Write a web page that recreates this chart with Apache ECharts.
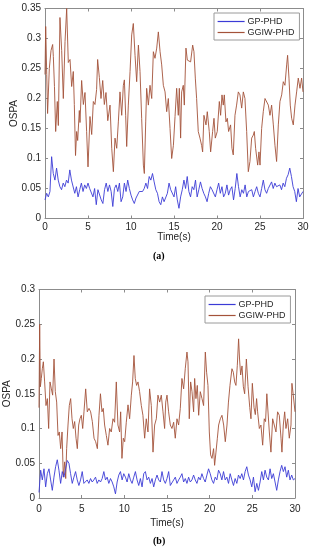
<!DOCTYPE html>
<html>
<head>
<meta charset="utf-8">
<script src="https://cdn.jsdelivr.net/npm/echarts@6/dist/echarts.min.js"></script>
<style>
html,body{margin:0;padding:0;background:#fff;}
#chart{width:312px;height:550px;}
</style>
</head>
<body>
<div id="chart"></div>
<script>
// ---------- data ----------
const xTicks = [0, 5, 10, 15, 20, 25, 30];
const seriesNames = ['GP-PHD', 'GGIW-PHD'];
const panelLabels = ['(a)', '(b)'];

// panel (a): GP-PHD, uniformly sampled over 0..30 s
const gpA = [0.031,0.042,0.036,0.045,0.103,0.075,0.064,0.084,0.064,0.053,0.048,0.059,0.053,0.064,0.059,0.081,0.064,0.061,0.042,0.053,
0.036,0.048,0.059,0.045,0.056,0.050,0.059,0.050,0.048,0.036,0.050,0.023,0.048,0.045,0.031,0.025,0.048,0.059,0.045,0.056,
0.045,0.020,0.050,0.056,0.045,0.059,0.028,0.036,0.059,0.045,0.064,0.050,0.039,0.031,0.025,0.034,0.036,0.045,0.048,0.045,
0.050,0.059,0.050,0.070,0.064,0.075,0.061,0.048,0.042,0.028,0.023,0.036,0.028,0.028,0.042,0.059,0.048,0.050,0.036,0.053,
0.031,0.017,0.036,0.048,0.064,0.050,0.070,0.045,0.036,0.053,0.048,0.064,0.036,0.048,0.061,0.050,0.042,0.036,0.028,0.042,
0.053,0.048,0.050,0.036,0.048,0.059,0.042,0.053,0.036,0.042,0.056,0.039,0.048,0.053,0.031,0.050,0.075,0.053,0.036,0.048,
0.042,0.056,0.036,0.045,0.042,0.048,0.036,0.045,0.053,0.042,0.036,0.050,0.064,0.048,0.042,0.050,0.048,0.061,0.050,0.059,
0.053,0.050,0.056,0.048,0.059,0.053,0.067,0.073,0.084,0.070,0.053,0.045,0.028,0.050,0.036,0.034,0.045];

// panel (a): GGIW-PHD
const ggiwTimeA = [0,0.08,0.2,0.3,0.5,0.7,0.89,0.97,1.1,1.24,1.43,1.55,1.74,1.94,2.02,2.13,2.33,2.52,2.71,2.91,
3.1,3.29,3.41,3.55,3.68,3.8,3.99,4.07,4.26,4.46,4.65,4.84,5.0,5.23,5.43,5.62,5.81,6.0,6.12,6.32,
6.51,6.71,6.9,7.09,7.3,7.56,7.76,7.95,8.14,8.34,8.53,8.72,8.92,9.11,9.23,9.38,9.5,9.69,9.89,10.08,
10.27,10.47,10.66,10.86,11.05,11.24,11.44,11.55,11.71,11.82,12.02,12.21,12.41,12.6,12.79,12.99,13.18,13.38,13.57,13.76,
13.96,14.15,14.34,14.54,14.73,14.93,15.12,15.31,15.5,15.62,15.77,15.89,16.08,16.2,16.39,16.55,16.78,16.93,17.17,17.32,
17.48,17.63,17.82,18.02,18.21,18.33,18.48,18.72,18.87,19.1,19.26,19.49,19.65,19.8,20.03,20.27,20.42,20.58,20.73,20.85,
21.04,21.2,21.35,21.58,21.74,21.89,22.09,22.28,22.48,22.67,22.87,23.06,23.25,23.45,23.64,23.83,24.03,24.22,24.34,24.49,
24.73,24.88,25.0,25.19,25.38,25.58,25.77,25.97,26.16,26.35,26.55,26.74,26.93,27.13,27.32,27.52,27.71,27.9,28.1,28.21,
28.37,28.52,28.68,28.87,29.07,29.26,29.45,29.65,29.84,30.0];
const ggiwA = [0.24,0.32,0.24,0.175,0.25,0.28,0.29,0.27,0.22,0.145,0.195,0.155,0.335,0.28,0.28,0.2,0.295,0.35,0.26,0.265,
0.22,0.245,0.19,0.105,0.145,0.13,0.18,0.16,0.23,0.19,0.21,0.145,0.086,0.17,0.14,0.195,0.19,0.215,0.265,0.235,
0.2,0.23,0.19,0.21,0.163,0.189,0.117,0.078,0.134,0.117,0.161,0.211,0.172,0.222,0.231,0.172,0.12,0.189,0.245,0.306,
0.325,0.272,0.228,0.289,0.245,0.167,0.089,0.075,0.161,0.217,0.189,0.222,0.2,0.278,0.267,0.284,0.311,0.278,0.256,0.222,
0.211,0.178,0.2,0.15,0.1,0.122,0.17,0.217,0.172,0.217,0.134,0.211,0.222,0.189,0.284,0.264,0.264,0.261,0.289,0.278,
0.234,0.2,0.145,0.134,0.122,0.111,0.172,0.156,0.178,0.145,0.111,0.145,0.167,0.134,0.145,0.195,0.172,0.206,0.189,0.206,
0.161,0.167,0.145,0.156,0.117,0.106,0.172,0.189,0.211,0.206,0.184,0.211,0.2,0.145,0.078,0.095,0.134,0.139,0.145,0.117,
0.089,0.111,0.089,0.15,0.178,0.2,0.2,0.189,0.172,0.189,0.156,0.122,0.095,0.156,0.195,0.206,0.228,0.222,0.256,0.272,
0.234,0.189,0.167,0.156,0.189,0.211,0.234,0.217,0.234,0.211];

// panel (b): GP-PHD, uniformly sampled over 0..30 s
const gpB = [0.008,0.040,0.026,0.042,0.016,0.035,0.042,0.026,0.011,0.030,0.045,0.055,0.040,0.021,0.038,0.030,0.042,0.054,0.050,0.035,
0.021,0.030,0.038,0.026,0.018,0.026,0.038,0.021,0.023,0.026,0.021,0.028,0.023,0.026,0.030,0.021,0.026,0.023,0.028,0.038,
0.026,0.030,0.021,0.028,0.023,0.016,0.006,0.023,0.033,0.038,0.026,0.035,0.030,0.023,0.035,0.026,0.021,0.030,0.038,0.026,
0.018,0.028,0.016,0.035,0.038,0.026,0.030,0.021,0.028,0.016,0.026,0.033,0.026,0.023,0.038,0.026,0.021,0.028,0.038,0.018,
0.016,0.026,0.030,0.021,0.026,0.030,0.035,0.023,0.028,0.021,0.030,0.023,0.026,0.033,0.026,0.021,0.030,0.026,0.035,0.028,
0.023,0.033,0.042,0.035,0.026,0.021,0.030,0.026,0.040,0.035,0.026,0.038,0.026,0.030,0.021,0.035,0.026,0.018,0.028,0.021,
0.033,0.028,0.035,0.026,0.038,0.045,0.033,0.026,0.016,0.030,0.009,0.021,0.011,0.023,0.038,0.026,0.040,0.030,0.026,0.042,
0.028,0.035,0.023,0.011,0.026,0.038,0.047,0.038,0.045,0.030,0.040,0.026,0.033,0.026,0.028];

// panel (b): GGIW-PHD
const ggiwTimeB = [0,0.08,0.16,0.27,0.39,0.51,0.66,0.82,0.98,1.13,1.29,1.45,1.6,1.76,1.91,2.07,2.23,2.38,2.54,2.7,
2.85,3.01,3.13,3.24,3.4,3.55,3.71,3.87,4.02,4.18,4.34,4.49,4.65,4.8,4.96,5.12,5.27,5.47,5.66,5.86,
6.05,6.25,6.45,6.64,6.84,7.03,7.2,7.38,7.53,7.69,7.89,8.08,8.28,8.47,8.67,8.86,9.06,9.25,9.45,9.57,
9.72,9.88,10.04,10.23,10.43,10.62,10.82,10.97,11.13,11.28,11.44,11.6,11.79,11.99,12.18,12.38,12.57,12.77,12.96,13.16,
13.36,13.55,13.75,13.94,14.14,14.33,14.53,14.72,14.85,15.0,15.19,15.39,15.58,15.78,15.97,16.17,16.36,16.56,16.75,16.95,
17.14,17.34,17.46,17.61,17.77,17.93,18.12,18.24,18.39,18.55,18.71,18.9,19.1,19.29,19.49,19.64,19.8,19.96,20.11,20.27,
20.46,20.58,20.74,20.9,21.05,21.25,21.44,21.64,21.83,22.03,22.2,22.38,22.61,22.77,22.93,23.08,23.24,23.39,23.5,23.63,
23.79,23.95,24.1,24.3,24.5,24.7,24.84,25.0,25.2,25.35,25.5,25.62,25.82,26.01,26.21,26.4,26.55,26.7,26.99,27.18,
27.38,27.57,27.77,27.96,28.16,28.36,28.47,28.63,28.79,28.94,29.14,29.33,29.53,29.64,29.8,30.0];
const ggiwB = [0.13,0.25,0.16,0.172,0.186,0.196,0.167,0.133,0.143,0.1,0.167,0.157,0.148,0.2,0.153,0.138,0.09,0.095,0.071,0.095,
0.03,0.052,0.028,0.071,0.105,0.133,0.143,0.114,0.1,0.11,0.086,0.071,0.105,0.114,0.119,0.1,0.124,0.157,0.124,0.129,
0.124,0.11,0.086,0.081,0.071,0.119,0.15,0.124,0.129,0.105,0.09,0.076,0.1,0.095,0.114,0.109,0.167,0.105,0.095,0.124,
0.057,0.086,0.081,0.109,0.134,0.114,0.148,0.167,0.205,0.172,0.162,0.167,0.153,0.133,0.119,0.086,0.114,0.095,0.157,0.133,
0.066,0.105,0.114,0.148,0.138,0.148,0.124,0.1,0.138,0.148,0.124,0.105,0.1,0.109,0.086,0.114,0.105,0.129,0.172,0.157,
0.186,0.21,0.196,0.114,0.167,0.153,0.124,0.172,0.143,0.162,0.119,0.153,0.143,0.133,0.21,0.181,0.162,0.095,0.062,0.057,
0.071,0.047,0.066,0.086,0.105,0.114,0.119,0.105,0.081,0.105,0.138,0.162,0.186,0.181,0.167,0.162,0.191,0.229,0.2,0.177,
0.19,0.16,0.15,0.2,0.16,0.13,0.114,0.165,0.13,0.12,0.143,0.124,0.1,0.105,0.076,0.114,0.11,0.15,0.095,0.066,
0.114,0.105,0.095,0.124,0.119,0.086,0.066,0.105,0.124,0.1,0.114,0.086,0.105,0.165,0.148,0.124];

// ---------- build ----------
function uniformPairs(vals) {
  const n = vals.length;
  return vals.map((v, i) => [xTicks[0] + (xTicks[xTicks.length - 1] - xTicks[0]) * i / (n - 1), v]);
}
function zipPairs(ts, vs) { return ts.map((t, i) => [t, vs[i]]); }

const FONT = 'Liberation Sans, Arial, sans-serif';
const TXT = '#262626';
const AXC = '#8c8c8c';
const BLUE = '#3b3bd6';
const RED = '#a4523a';

function xAx(gi, pos, showLbl, margin, nameGap) {
  return {
    type: 'value', gridIndex: gi, position: pos, min: xTicks[0], max: xTicks[xTicks.length - 1], interval: xTicks[1] - xTicks[0],
    axisLine: { show: true, onZero: false, lineStyle: { color: AXC, width: 1 } },
    axisTick: { show: true, inside: true, length: 3, lineStyle: { color: AXC } },
    axisLabel: { show: showLbl, fontSize: 10, color: TXT, fontFamily: FONT, margin: margin },
    splitLine: { show: false },
    name: showLbl ? 'Time(s)' : '', nameLocation: 'middle', nameGap: nameGap, nameMoveOverlap: false,
    nameTextStyle: { fontSize: 10, color: TXT, fontFamily: FONT }
  };
}
function yAx(gi, pos, showLbl, max, nameGap) {
  return {
    type: 'value', gridIndex: gi, position: pos, min: 0, max: max, interval: 0.05,
    axisLine: { show: true, onZero: false, lineStyle: { color: AXC, width: 1 } },
    axisTick: { show: true, inside: true, length: 3, lineStyle: { color: AXC } },
    axisLabel: { show: showLbl, fontSize: 10, color: TXT, fontFamily: FONT, margin: 4 },
    splitLine: { show: false },
    name: showLbl ? 'OSPA' : '', nameLocation: 'middle', nameGap: nameGap, nameRotate: 90, nameMoveOverlap: false,
    nameTextStyle: { fontSize: 10, color: TXT, fontFamily: FONT }
  };
}
function lineSeries(name, xi, yi, data, color) {
  return {
    name: name, type: 'line', xAxisIndex: xi, yAxisIndex: yi, data: data,
    symbol: 'none', showSymbol: false, animation: false,
    lineStyle: { color: color, width: 0.9 }, itemStyle: { color: color }
  };
}
function legend(left, top) {
  return {
    data: seriesNames, orient: 'vertical', left: left, top: top,
    itemWidth: 27, itemHeight: 9, itemGap: 2,
    padding: [4, 5, 3, 3],
    borderColor: '#9a9a9a', borderWidth: 1, backgroundColor: '#fff',
    itemStyle: { opacity: 0 },
    lineStyle: { width: 1.2 },
    textStyle: { fontSize: 9, color: TXT, fontFamily: FONT, padding: [0, 0, 0, -2] },
    selectedMode: false
  };
}

const chart = echarts.init(document.getElementById('chart'), null, { renderer: 'canvas' });
chart.setOption({
  animation: false,
  backgroundColor: '#fff',
  grid: [
    { left: 45, top: 8.5, width: 258, height: 210, outerBoundsMode: 'none', containLabel: false },
    { left: 39, top: 289.5, width: 256, height: 208.5, outerBoundsMode: 'none', containLabel: false }
  ],
  xAxis: [
    xAx(0, 'bottom', true, 4, 14),
    xAx(0, 'top', false, 4, 0),
    xAx(1, 'bottom', true, 6, 20),
    xAx(1, 'top', false, 4, 0)
  ],
  yAxis: [
    yAx(0, 'left', true, 0.35, 26),
    yAx(0, 'right', false, 0.35, 0),
    yAx(1, 'left', true, 0.3, 27),
    yAx(1, 'right', false, 0.3, 0)
  ],
  legend: [legend(214, 13), legend(205, 296)],
  series: [
    lineSeries(seriesNames[1], 0, 0, zipPairs(ggiwTimeA, ggiwA), RED),
    lineSeries(seriesNames[0], 0, 0, uniformPairs(gpA), BLUE),
    lineSeries(seriesNames[1], 2, 2, zipPairs(ggiwTimeB, ggiwB), RED),
    lineSeries(seriesNames[0], 2, 2, uniformPairs(gpB), BLUE)
  ],
  graphic: [
    { type: 'text', left: 161 - 8, top: 251, style: { text: panelLabels[0], font: 'bold 10px "Liberation Serif", serif', fill: '#000' } },
    { type: 'text', left: 161 - 8, top: 536, style: { text: panelLabels[1], font: 'bold 10px "Liberation Serif", serif', fill: '#000' } }
  ]
});
</script>
</body>
</html>
